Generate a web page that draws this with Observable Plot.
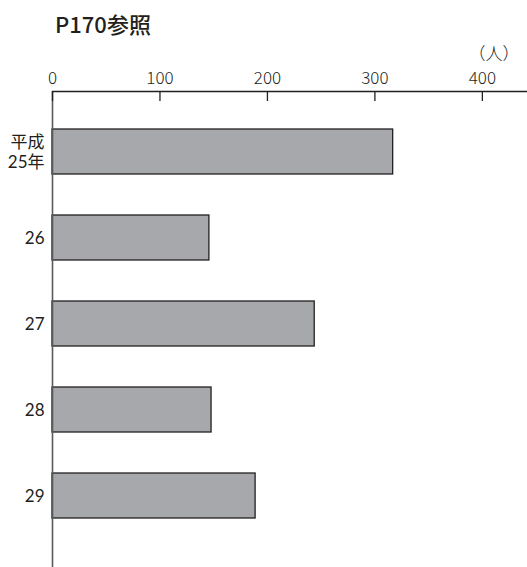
<!DOCTYPE html>
<html>
<head>
<meta charset="utf-8">
<script src="https://cdn.jsdelivr.net/npm/d3@7"></script>
<script src="https://cdn.jsdelivr.net/npm/@observablehq/plot@0.6"></script>
<style>
  html, body { margin: 0; padding: 0; background: #fff; }
  body { width: 527px; height: 567px; overflow: hidden; font-family: "Noto Sans CJK JP", "Noto Sans", sans-serif; }
  #title { height: 40px; box-sizing: border-box; padding: 8px 0 0 55px; line-height: 30px; font-size: 22px; font-weight: 500; color: #231f20; }
  svg { display: block; }
</style>
</head>
<body>
<div id="title">P170参照</div>
<div id="chart"></div>
<script>
const years = ["平成\n25年", "26", "27", "28", "29"];
const values = [317, 146, 244, 148, 189];
const xTicks = [0, 100, 200, 300, 400];
const unitLabel = "（人）";

const data = years.map((y, i) => ({year: y, value: values[i]}));
const font = "\"Noto Sans CJK JP\", \"Noto Sans\", sans-serif";
const yFont = "Lato, \"Noto Sans CJK JP\", sans-serif";

const chart = Plot.plot({
  width: 527,
  height: 527,
  marginTop: 51,
  marginLeft: 52,
  marginRight: 0,
  marginBottom: 0,
  style: {fontFamily: font, fontSize: "16px", color: "#231f20", background: "#fff"},
  x: {domain: [0, 442], axis: null},
  y: {domain: years, range: [45.8, 521.5], padding: 0.48, axis: null},
  marks: [
    Plot.barX(data, {x: "value", y: "year", fill: "#a7a8ab", stroke: "#231f20", strokeWidth: 1.3}),
    Plot.ruleX([0], {stroke: "#58595b", strokeWidth: 1.6}),
    Plot.frame({anchor: "top", stroke: "#231f20", strokeWidth: 1.3}),
    Plot.axisX({anchor: "top", ticks: xTicks, tickSize: 9, dy: 9, text: null, stroke: "#231f20", strokeWidth: 1.3, label: null}),
    Plot.axisX({anchor: "top", ticks: xTicks, tickSize: 0, tickPadding: 8, fontSize: 17, fontWeight: 300, fill: "#231f20", label: null}),
    Plot.axisY({anchor: "left", tickSize: 0, tickPadding: 8, fontSize: 17, fontFamily: yFont, fontWeight: 400, lineHeight: 1.18, fill: "#231f20", label: null}),
    Plot.text([unitLabel], {frameAnchor: "top-right", text: d => d, dx: -8, dy: -37, lineAnchor: "middle", textAnchor: "end", fontSize: 17, fontWeight: 300, fill: "#231f20"})
  ]
});
document.getElementById("chart").appendChild(chart);
</script>
</body>
</html>
